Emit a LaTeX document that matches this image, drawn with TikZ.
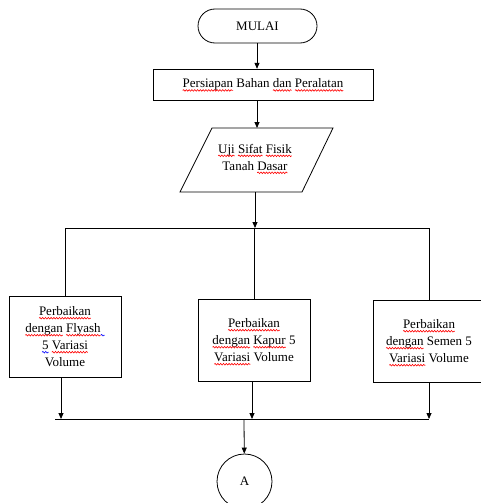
\documentclass[tikz,border=0pt]{standalone}
\usepackage{fontspec}
\setmainfont{Liberation Serif}
\usetikzlibrary{arrows.meta,decorations.pathmorphing}
\newcommand\sqline[3]{\tikz[baseline=(w.base),x=1cm,y=1cm]{\node[draw=none,fill=none,shape=rectangle,minimum width=0pt,minimum height=0pt,inner sep=0pt,outer sep=0pt,rounded corners=0pt] (w) {#2};\draw[overlay,#1,line width=0.6pt,decorate,decoration={snake,amplitude=0.8pt,segment length=2.8pt}] ([yshift=-2.8pt]w.base west) -- ([yshift=-2.8pt,xshift=#3]w.base east);}}
\newcommand\wv[1]{\sqline{red}{#1}{0pt}}
\newcommand\bw[1]{\sqline{blue}{#1}{0pt}}
\begin{document}
\begin{tikzpicture}[x=1pt,y=-1pt,line width=0.8pt,
  >={Triangle[length=6pt,width=5pt]},
  txt/.style={font=\fontsize{13}{17}\selectfont,align=center,inner sep=0pt},
  procbox/.style={txt,draw,minimum width=112pt,minimum height=82pt}]
\useasboundingbox (0,0) rectangle (481,503);
\clip (0,0) rectangle (481,503);

\node[txt,draw,rounded corners=17pt,minimum width=119pt,minimum height=34pt] (start) at (257.5,26) {MULAI};
\node[txt,draw,minimum width=220pt,minimum height=31pt] (prep) at (263,84.5) {\wv{Persiapan} Bahan \wv{dan} \wv{Peralatan}};

\draw (212,128) -- (333,128) -- (302,192) -- (180,192) -- cycle;
\node[txt] (uji) at (255,157) {\wv{Uji} \wv{Sifat} \wv{Fisik}\\Tanah \wv{Dasar}};
\coordinate (ujitop) at (257,128);
\coordinate (ujibot) at (255,192);
\coordinate (split) at (255,228);

\node[procbox,minimum height=81pt] (b1) at (65,336.5) {\wv{Perbaikan}\\\wv{dengan} \wv{Flyash}\bw{\hbox to 4pt{}}\\\bw{5} \wv{Variasi}\\Volume};
\node[procbox] (b2) at (254,340) {\wv{Perbaikan}\\\wv{dengan} \wv{Kapur} 5\\\wv{Variasi} Volume};
\node[procbox] (b3) at (429,341) {\wv{Perbaikan}\\\wv{dengan} Semen 5\\\wv{Variasi} Volume};

\coordinate (merge) at (244,419);
\coordinate (mleft) at (55,419);
\node[txt,draw,circle,minimum size=55pt] (A) at (244.5,481.5) {A};

\draw[->] (start.south -| ujitop) -- (prep.north -| ujitop);
\draw[->] (prep.south -| ujitop) -- (ujitop);
\draw[->] (ujibot) -- (split);
\draw (b1.north) -- (b1.north |- split) -- (b3.north |- split) -- (b3.north);
\draw (split -| b2.north) -- (b2.north);

\draw[->] ([xshift=-4pt]b1.south) -- ([xshift=-4pt]b1.south |- merge);
\draw[->] ([xshift=-2pt]b2.south) -- ([xshift=-2pt]b2.south |- merge);
\draw[->] (b3.south) -- (b3.south |- merge);
\draw (mleft) -- (b3.south |- merge);
\draw[->] (merge) -- (A);
\end{tikzpicture}
\end{document}
